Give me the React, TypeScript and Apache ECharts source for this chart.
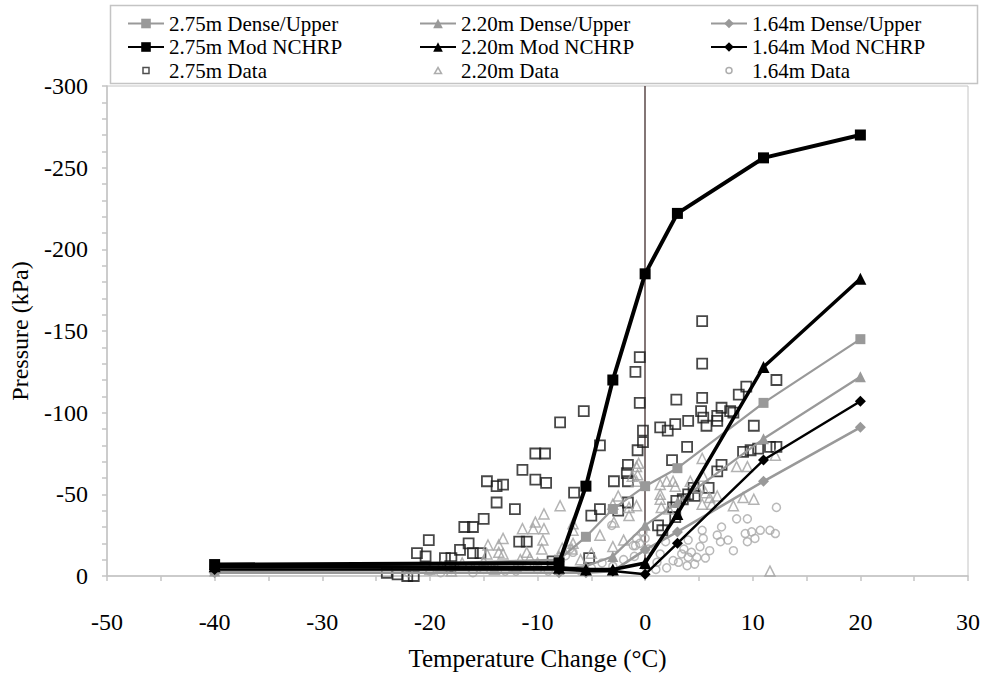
import { useEffect, useRef } from 'react';
import * as echarts from 'echarts';

// ---------- data ----------
const lineX = [-40, -8, -5.5, -3, 0, 3, 11, 20];

const dense275 = [-4, -10, -24, -41, -55, -66, -106, -145];
const dense220 = [-3, -4, -6, -12, -31, -45, -84, -122];
const dense164 = [-2, -2, -2, -3, -16, -27, -58, -91];

const mod275 = [-7, -8, -55, -120, -185, -222, -256, -270];
const mod220 = [-6, -5, -4, -4, -8, -38, -128, -182];
const mod164 = [-4, -4, -3, -3, -1, -20, -71, -107];

const data275: [number, number][] = [
  [-0.5, -134], [-0.9, -125], [-0.5, -106], [2.9, -108], [-5.7, -101], [-7.9, -94],
  [1.4, -91], [2.1, -89], [2.8, -93], [-0.2, -89], [-0.2, -82], [-0.7, -77], [-4.2, -80],
  [-10.2, -75], [-9.3, -75], [-11.4, -65], [-10.2, -59], [-9.2, -57], [2.5, -71],
  [-1.6, -68], [-1.7, -63], [-1.6, -58], [-2.9, -58], [-14.7, -58], [-13.8, -55], [-13.2, -56],
  [-6.6, -51], [-13.8, -45], [-12.1, -41], [-1.6, -45], [-4.2, -41], [-5.0, -37], [-2.5, -40],
  [-15, -35], [-16.8, -30], [-16, -30], [-20.1, -22], [-16.4, -20], [-17.2, -16], [-11.7, -21], [-11, -21],
  [-21.2, -14], [-20.4, -12], [-16, -14], [-15.3, -14], [-18.6, -11], [-18, -11], [-18.1, -6], [-5.2, -11],
  [-23, -1], [-22.1, 0], [-21.5, 0], [-24, -2], [-8.6, -9],
  [5.3, -156], [5.3, -130], [12.2, -120], [9.4, -116], [8.7, -111], [5.3, -109], [5.2, -101], [5.4, -97],
  [7.1, -103], [7.9, -101], [8.2, -100], [4.0, -95], [5.7, -92], [6.7, -95], [6.7, -98], [10.1, -92],
  [3.9, -79], [9.1, -76], [9.8, -77], [10.5, -78], [11.6, -79], [12.2, -79], [7.1, -68], [6.7, -64],
  [5.9, -54], [4.0, -50], [3.5, -47], [2.9, -46], [2.6, -42], [2.8, -36], [4.5, -54], [1.2, -31], [1.6, -28],
  [4.6, -49],
];

const data220: [number, number][] = [
  [-0.6, -69], [-7.9, -43], [-9.4, -38], [-10.2, -33], [-9.4, -29], [-10.4, -29], [-11.4, -29],
  [-13.2, -23], [-13.6, -19], [-14.6, -19], [-9.5, -22], [-6.7, -32], [-6.7, -28], [-4.2, -25], [-7.7, -17],
  [1.4, -56], [2.0, -58], [2.6, -58], [1.4, -47], [1.5, -42], [2.2, -41], [-0.7, -62], [-0.8, -58],
  [-1.5, -42], [-1.5, -37], [-0.8, -43], [-2.9, -33],
  [5.3, -72], [5.4, -61], [8.5, -67], [9.5, -67], [5.6, -51], [5.3, -44], [6.7, -49], [8.2, -43],
  [9.1, -48], [10.1, -47], [12.1, -74], [11.6, -3],
  [-13.6, -14.5], [-13.2, -13.5], [-14.7, -13.5], [-9.6, -16.5], [-11.6, -10], [-10.7, -11], [-11, -14.5],
  [2.8, -55], [1.4, -50], [-3, -44], [-6.7, -20], [-6.8, -16.5], [6, -48], [6.2, -44], [4.2, -58],
  [4.8, -54], [-0.8, -67], [-1.2, -61], [-2.5, -49],
  [-20, -4], [-19, -6], [-18, -3], [-17, -8], [-16, -5], [-15, -9], [-14, -4], [-12, -6], [-10, -8],
  [-8, -12], [-6, -10], [-5, -14], [-3, -18], [-2, -22],
];

const data164: [number, number][] = [
  [12.2, -42], [8.5, -35], [9.5, -35], [12.1, -26], [11.6, -28], [10.7, -28], [9.9, -27], [9.3, -26],
  [9.5, -21], [10.2, -23], [7.1, -30], [6.7, -25], [7.7, -22], [7, -21], [8.2, -15.5], [5.3, -28],
  [5.4, -23], [5.1, -18], [6.0, -15.5], [5.6, -11], [4, -22], [3.4, -13.5], [4, -11.5], [2.6, -9.4],
  [3.1, -8.4], [4.6, -7.3], [3.6, -16.5], [1.4, -13.5], [1.9, -21], [1.1, -8.4],
  [0, -23], [-0.5, -20], [-0.9, -18.6], [0.3, -16.5], [-3.1, -31], [-6.7, -14.5],
  [-1.1, -18.6], [-0.8, -23], [-0.2, -27], [-7, -16.5], [-7.4, -12.4], [4.3, -14.5], [4.8, -11.4], [3.9, -6.3],
  [-22, -2], [-20, -3], [-19, -2], [-18, -4], [-16, -2], [-15, -4], [-14, -5], [-13, -3], [-12, -3],
  [-11, -6], [-10, -4], [-9, -3], [-8, -6], [-6, -3], [-5, -5], [-4, -8], [-3, -6], [-2, -10],
  [-1, -12], [0, -6], [1, -4], [2, -5],
];

const legendCol1 = ['2.75m Dense/Upper', '2.75m Mod NCHRP', '2.75m Data'];
const legendCol2 = ['2.20m Dense/Upper', '2.20m Mod NCHRP', '2.20m Data'];
const legendCol3 = ['1.64m Dense/Upper', '1.64m Mod NCHRP', '1.64m Data'];

const xAxisName = 'Temperature Change (°C)';
const yAxisName = 'Pressure (kPa)';

// ---------- styling ----------
const FONT = 'Liberation Serif';
const GRAY = '#999999';
const LIGHT = '#c4c4c4';

const pair = (ys: number[]) => lineX.map((x, i) => [x, ys[i]]);

const iconSquare = 'path://M0,0M12,12M3,3L9,3L9,9L3,9Z';
const iconTri = 'path://M0,0M12,12M6,3L9.5,9L2.5,9Z';
const iconCircle = 'path://M0,0M12,12M9,6A3,3,0,1,1,3,6A3,3,0,1,1,9,6Z';

export default function App() {
  const ref = useRef<HTMLDivElement>(null);

  useEffect(() => {
    if (!ref.current) return;
    const chart = echarts.init(ref.current, null, { renderer: 'svg' });

    const lineSeries = (name: string, ys: number[], color: string, width: number, symbol: string, size: number, z: number) => ({
      name,
      type: 'line',
      data: pair(ys),
      symbol,
      symbolSize: size,
      showSymbol: true,
      lineStyle: { color, width },
      itemStyle: { color, borderWidth: 0 },
      z,
    });

    const scatterSeries = (name: string, data: [number, number][], color: string, symbol: string, size: number, bw: number) => ({
      name,
      type: 'scatter',
      data,
      symbol,
      symbolSize: size,
      itemStyle: { color: 'rgba(255,255,255,0)', borderColor: color, borderWidth: bw },
      z: 2,
    });

    const legendBase = {
      orient: 'vertical',
      top: 8,
      itemWidth: 36,
      itemHeight: 12,
      itemGap: 2.5,
      selectedMode: false,
      textStyle: { fontFamily: FONT, fontSize: 21, color: '#000' },
    };
    const legendData = (names: string[], icon: string, color: string) => [
      names[0],
      names[1],
      { name: names[2], icon, itemStyle: { color: 'rgba(255,255,255,0)', borderColor: color, borderWidth: 1.5 } },
    ];

    chart.setOption({
      animation: false,
      backgroundColor: '#fff',
      textStyle: { fontFamily: FONT },
      grid: { left: 107, right: 17, top: 86, bottom: 99, show: true, borderColor: LIGHT, borderWidth: 1 },
      graphic: [
        {
          type: 'rect',
          left: 108,
          top: 3,
          shape: { width: 867, height: 78 },
          style: { fill: 'none', stroke: LIGHT, lineWidth: 1.5 },
          silent: true,
        },
      ],
      legend: [
        { ...legendBase, left: 122, data: legendData(legendCol1, iconSquare, '#222') },
        { ...legendBase, left: 414, data: legendData(legendCol2, iconTri, GRAY) },
        { ...legendBase, left: 705, data: legendData(legendCol3, iconCircle, GRAY) },
      ],
      xAxis: {
        type: 'value',
        min: -50,
        max: 30,
        interval: 5,
        name: xAxisName,
        nameLocation: 'middle',
        nameGap: 70,
        nameTextStyle: { fontFamily: FONT, fontSize: 25, color: '#000' },
        axisLine: { show: true, onZero: false, lineStyle: { color: LIGHT, width: 1.5 } },
        axisTick: { show: true, inside: false, length: 5, lineStyle: { color: LIGHT, width: 1.5 } },
        axisLabel: {
          margin: 34,
          fontFamily: FONT,
          fontSize: 24,
          color: '#000',
          formatter: (v: number) => (v % 10 === 0 ? String(v) : ''),
        },
        splitLine: { show: false },
      },
      yAxis: {
        type: 'value',
        inverse: true,
        min: -300,
        max: 0,
        interval: 10,
        name: yAxisName,
        nameLocation: 'middle',
        nameRotate: 90,
        nameGap: 75,
        nameTextStyle: { fontFamily: FONT, fontSize: 24, color: '#000' },
        axisLine: { show: true, onZero: false, lineStyle: { color: LIGHT, width: 1.5 } },
        axisTick: { show: true, inside: false, length: 5, lineStyle: { color: LIGHT, width: 1.5 } },
        axisLabel: {
          margin: 19,
          fontFamily: FONT,
          fontSize: 24,
          color: '#000',
          formatter: (v: number) => (v % 50 === 0 ? String(v) : ''),
        },
        splitLine: { show: false },
      },
      series: [
        scatterSeries('2.75m Data', data275, '#1a1a1a', 'rect', 10, 1.8),
        scatterSeries('2.20m Data', data220, '#a0a0a0', 'triangle', 10, 1.5),
        scatterSeries('1.64m Data', data164, '#a8a8a8', 'circle', 8, 1.5),
        lineSeries('2.75m Dense/Upper', dense275, GRAY, 2.2, 'rect', 10, 4),
        lineSeries('2.20m Dense/Upper', dense220, GRAY, 2.2, 'triangle', 11, 4),
        lineSeries('1.64m Dense/Upper', dense164, GRAY, 2.6, 'diamond', 11, 4),
        {
          ...lineSeries('2.75m Mod NCHRP', mod275, '#000', 4, 'rect', 11, 6),
          markLine: {
            silent: true,
            symbol: 'none',
            label: { show: false },
            lineStyle: { color: '#5a4848', width: 1.5, type: 'solid' },
            data: [{ xAxis: 0 }],
            z: 1,
          },
        },
        lineSeries('2.20m Mod NCHRP', mod220, '#000', 3.5, 'triangle', 12, 6),
        lineSeries('1.64m Mod NCHRP', mod164, '#000', 2.5, 'diamond', 11, 6),
      ],
    });

    return () => chart.dispose();
  }, []);

  return (
    <div
      ref={ref}
      style={{ position: 'fixed', left: 0, top: 0, width: 985, height: 676, background: '#fff' }}
    />
  );
}
